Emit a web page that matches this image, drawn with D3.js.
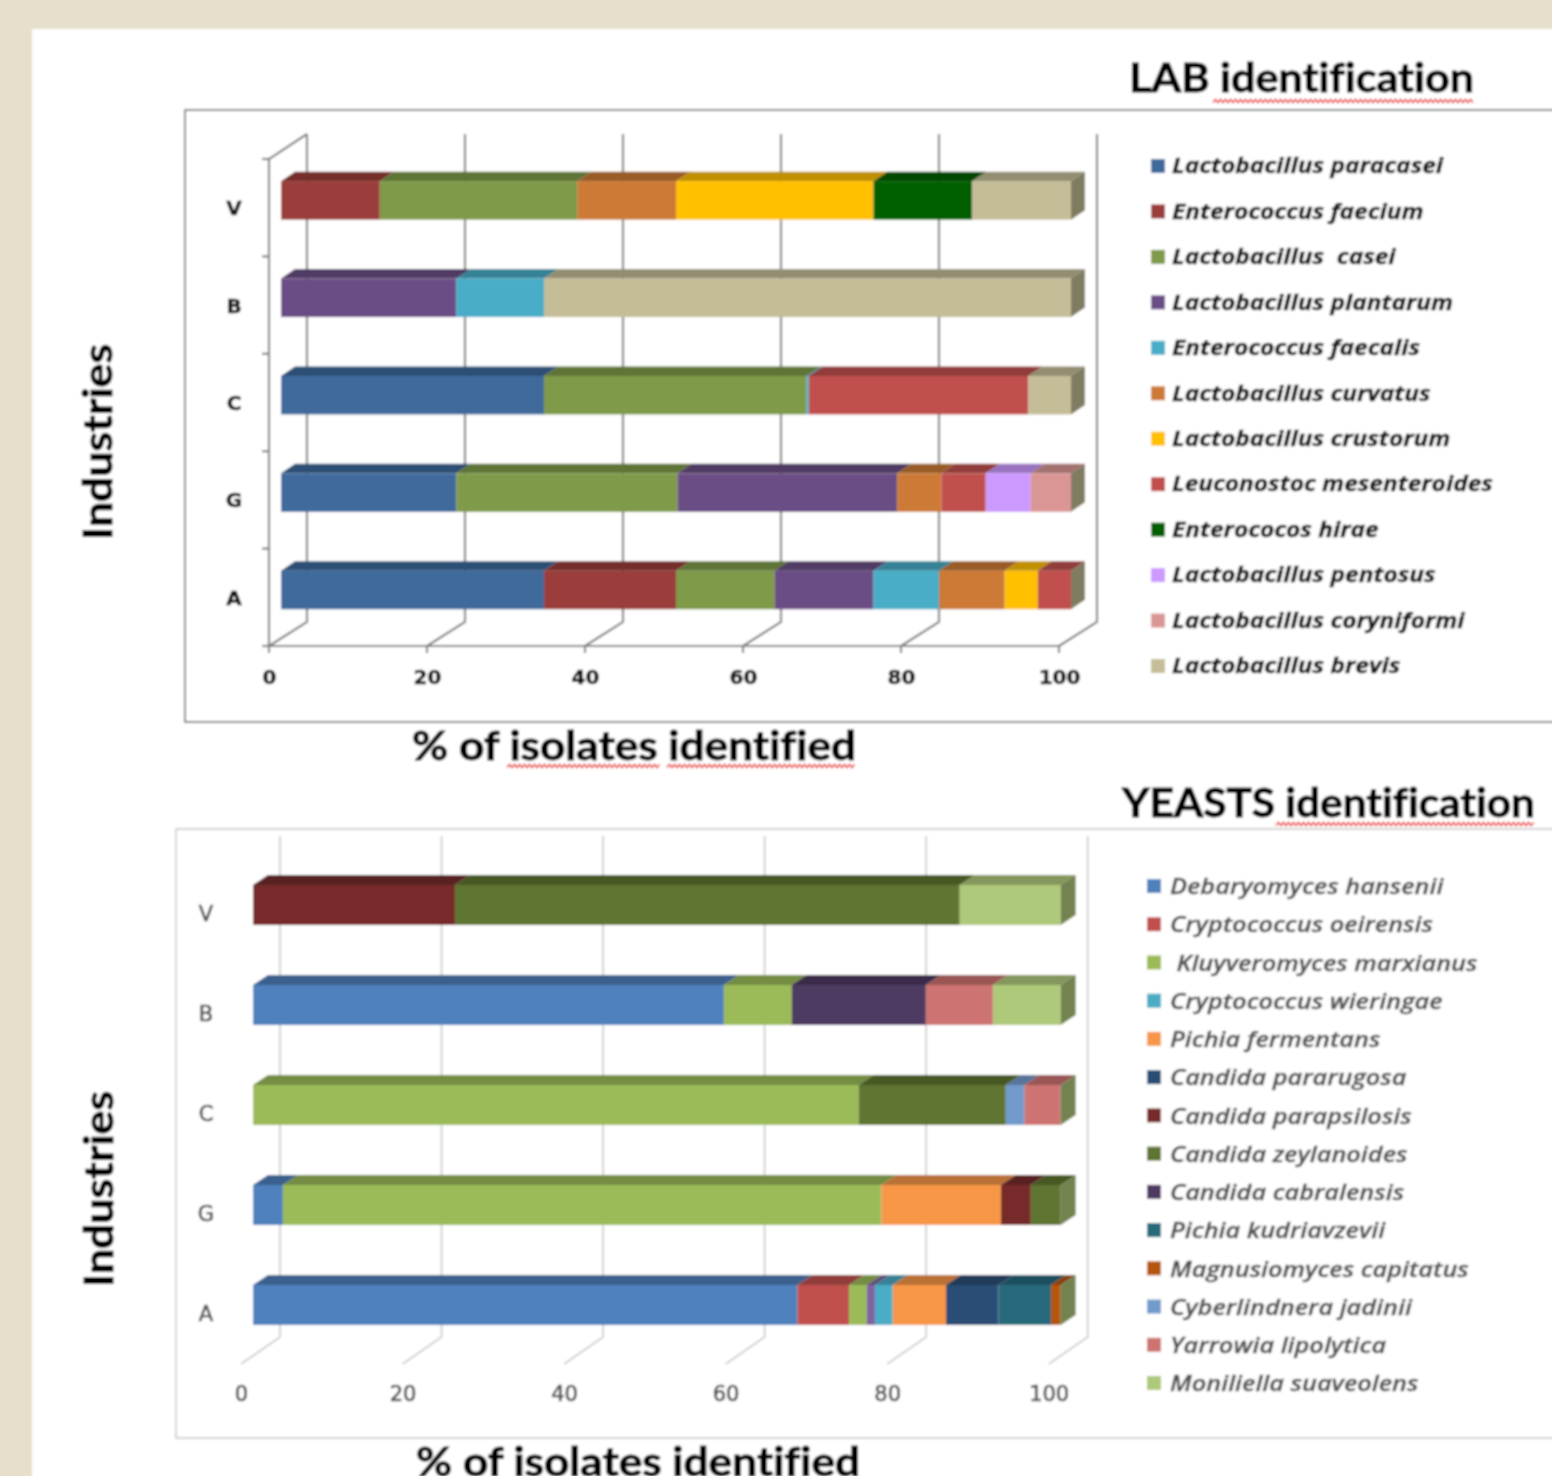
<!DOCTYPE html>
<html lang="en">
<style>
html, body { margin: 0; padding: 0; background: #e5dfcc; overflow: hidden; }
svg { display: block; }
.title { font-family: Lato, sans-serif; font-weight: 700; fill: #000; stroke: #000; stroke-width: 0.9; font-variant-ligatures: none; }
.legend text { font-family: "Open Sans", sans-serif; font-style: italic; font-size: 22px; white-space: pre; }
.axis text { font-family: "DejaVu Sans", sans-serif; }
.axis path, .axis line { fill: none; }
</style>
<svg width="1552" height="1476"></svg>
<script src="https://d3js.org/d3.v7.min.js"></script>
<script>
// categories, top to bottom
var categories = ["V", "B", "C", "G", "A"];
var xTicks = [0, 20, 40, 60, 80, 100];

// LAB series, % of isolates per category (V, B, C, G, A)
var labNames = ["Lactobacillus paracasei", "Enterococcus faecium", "Lactobacillus  casei", "Lactobacillus plantarum",
    "Enterococcus faecalis", "Lactobacillus curvatus", "Lactobacillus crustorum", "Leuconostoc mesenteroides",
    "Enterococos hirae", "Lactobacillus pentosus", "Lactobacillus coryniformi", "Lactobacillus brevis"];
var labColors = ["#3f6a9c", "#9a3d3b", "#7f9a48", "#6a4e85", "#48adc7", "#cc7a34", "#ffc000", "#c0504d",
    "#006100", "#cc99ff", "#d99694", "#c4bd97"];
var labParacasei = [0, 0, 33.3, 22.2, 33.3];
var labFaecium = [12.5, 0, 0, 0, 16.7];
var labCasei = [25, 0, 33.2, 28, 12.5];
var labPlantarum = [0, 22.2, 0, 27.8, 12.5];
var labFaecalis = [0, 11.1, 0.3, 0, 8.3];
var labCurvatus = [12.5, 0, 0, 5.6, 8.3];
var labCrustorum = [25, 0, 0, 0, 4.2];
var labLeuconostoc = [0, 0, 27.8, 5.6, 4.2];
var labHirae = [12.5, 0, 0, 0, 0];
var labPentosus = [0, 0, 0, 5.7, 0];
var labCoryniformi = [0, 0, 0, 5.1, 0];
var labBrevis = [12.5, 66.7, 5.4, 0, 0];
var labValues = [labParacasei, labFaecium, labCasei, labPlantarum, labFaecalis, labCurvatus,
    labCrustorum, labLeuconostoc, labHirae, labPentosus, labCoryniformi, labBrevis];

// yeast series, the purple sliver in A has no legend entry in the picture
var yeastNames = ["Debaryomyces hansenii", "Cryptococcus oeirensis", " Kluyveromyces marxianus", "",
    "Cryptococcus wieringae", "Pichia fermentans", "Candida pararugosa", "Candida parapsilosis",
    "Candida zeylanoides", "Candida cabralensis", "Pichia kudriavzevii", "Magnusiomyces capitatus",
    "Cyberlindnera jadinii", "Yarrowia lipolytica", "Moniliella suaveolens"];
var yeastColors = ["#4f81bd", "#c0504d", "#9bbb59", "#8064a2", "#4bacc6", "#f79646", "#2c4d75", "#772c2a",
    "#5f7530", "#4d3b62", "#276a7c", "#b65708", "#729aca", "#cd7371", "#afc97a"];
var yeastDebaryomyces = [0, 58.3, 0, 3.7, 67.4];
var yeastOeirensis = [0, 0, 0, 0, 6.4];
var yeastKluyveromyces = [0, 8.4, 75, 74.1, 2.2];
var yeastSliver = [0, 0, 0, 0, 1];
var yeastWieringae = [0, 0, 0, 0, 2.2];
var yeastFermentans = [0, 0, 0, 14.8, 6.6];
var yeastPararugosa = [0, 0, 0, 0, 6.5];
var yeastParapsilosis = [25, 0, 0, 3.7, 0];
var yeastZeylanoides = [62.5, 0, 18.2, 3.7, 0];
var yeastCabralensis = [0, 16.6, 0, 0, 0];
var yeastKudriavzevii = [0, 0, 0, 0, 6.5];
var yeastMagnusiomyces = [0, 0, 0, 0, 1.2];
var yeastCyberlindnera = [0, 0, 2.3, 0, 0];
var yeastYarrowia = [0, 8.3, 4.5, 0, 0];
var yeastMoniliella = [12.5, 8.4, 0, 0, 0];
var yeastValues = [yeastDebaryomyces, yeastOeirensis, yeastKluyveromyces, yeastSliver, yeastWieringae,
    yeastFermentans, yeastPararugosa, yeastParapsilosis, yeastZeylanoides, yeastCabralensis,
    yeastKudriavzevii, yeastMagnusiomyces, yeastCyberlindnera, yeastYarrowia, yeastMoniliella];

var svg = d3.select("svg");
var defs = svg.append("defs");
// the reference is a soft screenshot, region runs past the page so edges stay clean
defs.append("filter").attr("id", "soft")
    .attr("filterUnits", "userSpaceOnUse")
    .attr("x", -20).attr("y", -20).attr("width", 1600).attr("height", 1530)
    .append("feGaussianBlur").attr("stdDeviation", 0.8);

var root = svg.append("g").attr("filter", "url(#soft)");
root.append("rect").attr("x", -20).attr("y", -20).attr("width", 1600).attr("height", 1530).attr("fill", "#e5dfcc");
root.append("rect").attr("x", 32).attr("y", 29).attr("width", 1548).attr("height", 1481).attr("fill", "white");

var poly = d3.line();

function drawPanel(cfg) {
    var g = root.append("g");

    g.append("rect")
        .attr("x", cfg.frame[0]).attr("y", cfg.frame[1])
        .attr("width", 1600).attr("height", cfg.frame[2] - cfg.frame[1])
        .attr("fill", "white").attr("stroke", cfg.frameColor).attr("stroke-width", cfg.frameWidth);

    var x = d3.scaleLinear().domain([0, 100]).range(cfg.xRange);
    var y = d3.scaleBand().domain(categories).range(cfg.yRange);
    var dx = cfg.wallDx, dy = cfg.wallDy;

    // back wall lines and the floor diagonals
    var grid = g.append("g").attr("stroke", cfg.gridColor).attr("stroke-width", cfg.gridWidth).attr("fill", "none");
    xTicks.forEach(function(t) {
        grid.append("path").attr("d", poly([
            [x(t), cfg.yRange[1]],
            [x(t) + dx, cfg.yRange[1] - dy],
            [x(t) + dx, cfg.gridTop]
        ]));
    });

    if (cfg.solidAxes) {
        grid.append("path").attr("d", poly([
            [x(0), cfg.yRange[1]], [x(100), cfg.yRange[1]]
        ]));
        grid.append("path").attr("d", poly([
            [x(0) + dx, cfg.gridTop], [x(0), cfg.yRange[0]], [x(0), cfg.yRange[1]]
        ]));
        d3.range(categories.length + 1).forEach(function(i) {
            var ty = cfg.yRange[0] + i * y.step();
            grid.append("path").attr("d", poly([[x(0) - 7, ty], [x(0), ty]]));
        });
        xTicks.forEach(function(t) {
            grid.append("path").attr("d", poly([[x(t), cfg.yRange[1]], [x(t), cfg.yRange[1] + 7]]));
        });
    }

    // axis labels
    var xAxis = g.append("g").attr("class", "axis")
        .attr("transform", "translate(0," + cfg.xLabelY + ")")
        .call(d3.axisBottom(x).tickValues(xTicks).tickSize(0).tickPadding(0));
    xAxis.select(".domain").remove();
    xAxis.selectAll("text")
        .attr("dy", "0.35em")
        .style("font-size", cfg.tickSize + "px").style("font-weight", cfg.tickWeight)
        .style("fill", cfg.tickColor).style("stroke", cfg.tickColor).style("stroke-width", cfg.tickStroke);

    var yAxis = g.append("g").attr("class", "axis")
        .attr("transform", "translate(" + cfg.yLabelX + "," + cfg.yLabelDy + ")")
        .call(d3.axisLeft(y).tickSize(0).tickPadding(0));
    yAxis.select(".domain").remove();
    yAxis.selectAll("text")
        .attr("text-anchor", "middle")
        .style("font-size", cfg.tickSize + "px").style("font-weight", cfg.tickWeight)
        .style("fill", cfg.tickColor).style("stroke", cfg.tickColor).style("stroke-width", cfg.tickStroke);

    // stacked bars
    var rows = categories.map(function(c, i) {
        return cfg.values.map(function(s) { return s[i]; });
    });
    var stack = d3.stack().keys(d3.range(cfg.values.length)).value(function(r, k) { return r[k]; })(rows);
    var bx = function(v) { return x(v) + cfg.barOffset; };
    var barTop = function(i) { return y(categories[i]) + y.bandwidth() / 2 + cfg.barShift - cfg.barHeight / 2; };
    var lastColor = d3.color(cfg.colors[cfg.colors.length - 1]).darker(1.2);

    categories.forEach(function(c, i) {
        var bar = g.append("g");
        var top = barTop(i), h = cfg.barHeight;
        stack.forEach(function(layer, k) {
            var a = layer[i][0], b = layer[i][1];
            if (b <= a) return;
            bar.append("path")
                .attr("fill", d3.color(cfg.colors[k]).darker(0.8))
                .attr("d", poly([
                    [bx(a), top], [bx(a) + cfg.depthX, top - cfg.depthY],
                    [bx(b) + cfg.depthX, top - cfg.depthY], [bx(b), top]
                ]) + "Z");
        });
        stack.forEach(function(layer, k) {
            var a = layer[i][0], b = layer[i][1];
            if (b <= a) return;
            bar.append("rect")
                .attr("x", bx(a)).attr("y", top)
                .attr("width", bx(b) - bx(a)).attr("height", h)
                .attr("fill", cfg.colors[k]);
        });
        // side face takes the colour of the last series
        bar.append("path")
            .attr("fill", lastColor)
            .attr("d", poly([
                [bx(100), top], [bx(100) + cfg.depthX, top - cfg.depthY],
                [bx(100) + cfg.depthX, top - cfg.depthY + h], [bx(100), top + h]
            ]) + "Z");
    });

    // legend
    var entries = cfg.names.map(function(n, i) { return { name: n, color: cfg.colors[i] }; })
        .filter(function(d) { return d.name !== ""; });
    var ly = d3.scalePoint().domain(d3.range(entries.length)).range(cfg.legendY);
    var legend = g.append("g").attr("class", "legend");
    entries.forEach(function(d, i) {
        legend.append("rect")
            .attr("x", cfg.legendX).attr("y", ly(i) - 7)
            .attr("width", 14).attr("height", 14).attr("fill", d.color);
        var t = legend.append("text")
            .attr("x", cfg.legendX + cfg.legendGap).attr("y", ly(i) + cfg.legendTextDy)
            .attr("dy", "0.33em")
            .style("font-weight", cfg.legendWeight).style("fill", cfg.legendColor)
            .style("stroke", cfg.legendColor).style("stroke-width", cfg.legendStroke)
            .text(d.name);
        // the pasted legend is wider than Open Sans
        t.attr("textLength", t.node().getComputedTextLength() * cfg.legendStretch)
            .attr("lengthAdjust", "spacingAndGlyphs");
    });
}

drawPanel({
    frame: [185, 110, 722], frameColor: "#767676", frameWidth: 1.8,
    values: labValues, names: labNames, colors: labColors,
    xRange: [269, 1059], yRange: [159, 646], wallDx: 38, wallDy: 24, gridTop: 134,
    gridColor: "#808080", gridWidth: 2.2, solidAxes: true,
    xLabelY: 677, yLabelX: 234, yLabelDy: 1,
    tickSize: 20, tickWeight: 700, tickColor: "#111", tickStroke: 0.5,
    barOffset: 12, barShift: -7.3, barHeight: 38.5, depthX: 14, depthY: 9.5,
    legendX: 1151, legendGap: 21, legendY: [166, 666], legendTextDy: 0, legendWeight: 700,
    legendColor: "#111", legendStroke: 0.4, legendStretch: 1.11
});

drawPanel({
    frame: [176, 829, 1438], frameColor: "#cfcfcf", frameWidth: 1.8,
    values: yeastValues, names: yeastNames, colors: yeastColors,
    xRange: [241, 1048.7], yRange: [864, 1364], wallDx: 39, wallDy: 27, gridTop: 836,
    gridColor: "#cdcdcd", gridWidth: 1.8, solidAxes: false,
    xLabelY: 1394, yLabelX: 206, yLabelDy: 0,
    tickSize: 21, tickWeight: 400, tickColor: "#505050", tickStroke: 0.7,
    barOffset: 12, barShift: -9, barHeight: 40, depthX: 15, depthY: 10,
    legendX: 1147, legendGap: 23, legendY: [886, 1383], legendTextDy: 1, legendWeight: 600,
    legendColor: "#505050", legendStroke: 0.4, legendStretch: 1.15
});

// titles, side labels and the spell check squiggles from the pasted slide
function label(text, px, py, size, fit, rotate) {
    return root.append("text").attr("class", "title")
        .attr("transform", "translate(" + px + "," + py + ")" + (rotate ? " rotate(-90)" : ""))
        .attr("textLength", fit).attr("lengthAdjust", "spacingAndGlyphs")
        .attr("text-anchor", rotate ? "middle" : "start")
        .style("font-size", size + "px")
        .text(text);
}
function squiggle(x0, x1, py) {
    var pts = d3.range(x0, x1 + 1, 2.5).map(function(v, i) { return [v, py + (i % 2 ? -1.5 : 1.5)]; });
    root.append("path").attr("d", poly(pts)).attr("fill", "none").attr("stroke", "#e81c16").attr("stroke-width", 1.5);
}

label("LAB identification", 1129, 92, 40, 345);
label("YEASTS identification", 1122, 817, 40, 413);
label("% of isolates identified", 412, 760, 40, 444);
label("% of isolates identified", 416, 1476, 40, 444);
label("Industries", 112, 442, 40, 196, true);
label("Industries", 113, 1189, 40, 196, true);

squiggle(1213, 1474, 101);
squiggle(1276, 1535, 824);
squiggle(507, 660, 766);
squiggle(667, 856, 766);
</script>
</html>
